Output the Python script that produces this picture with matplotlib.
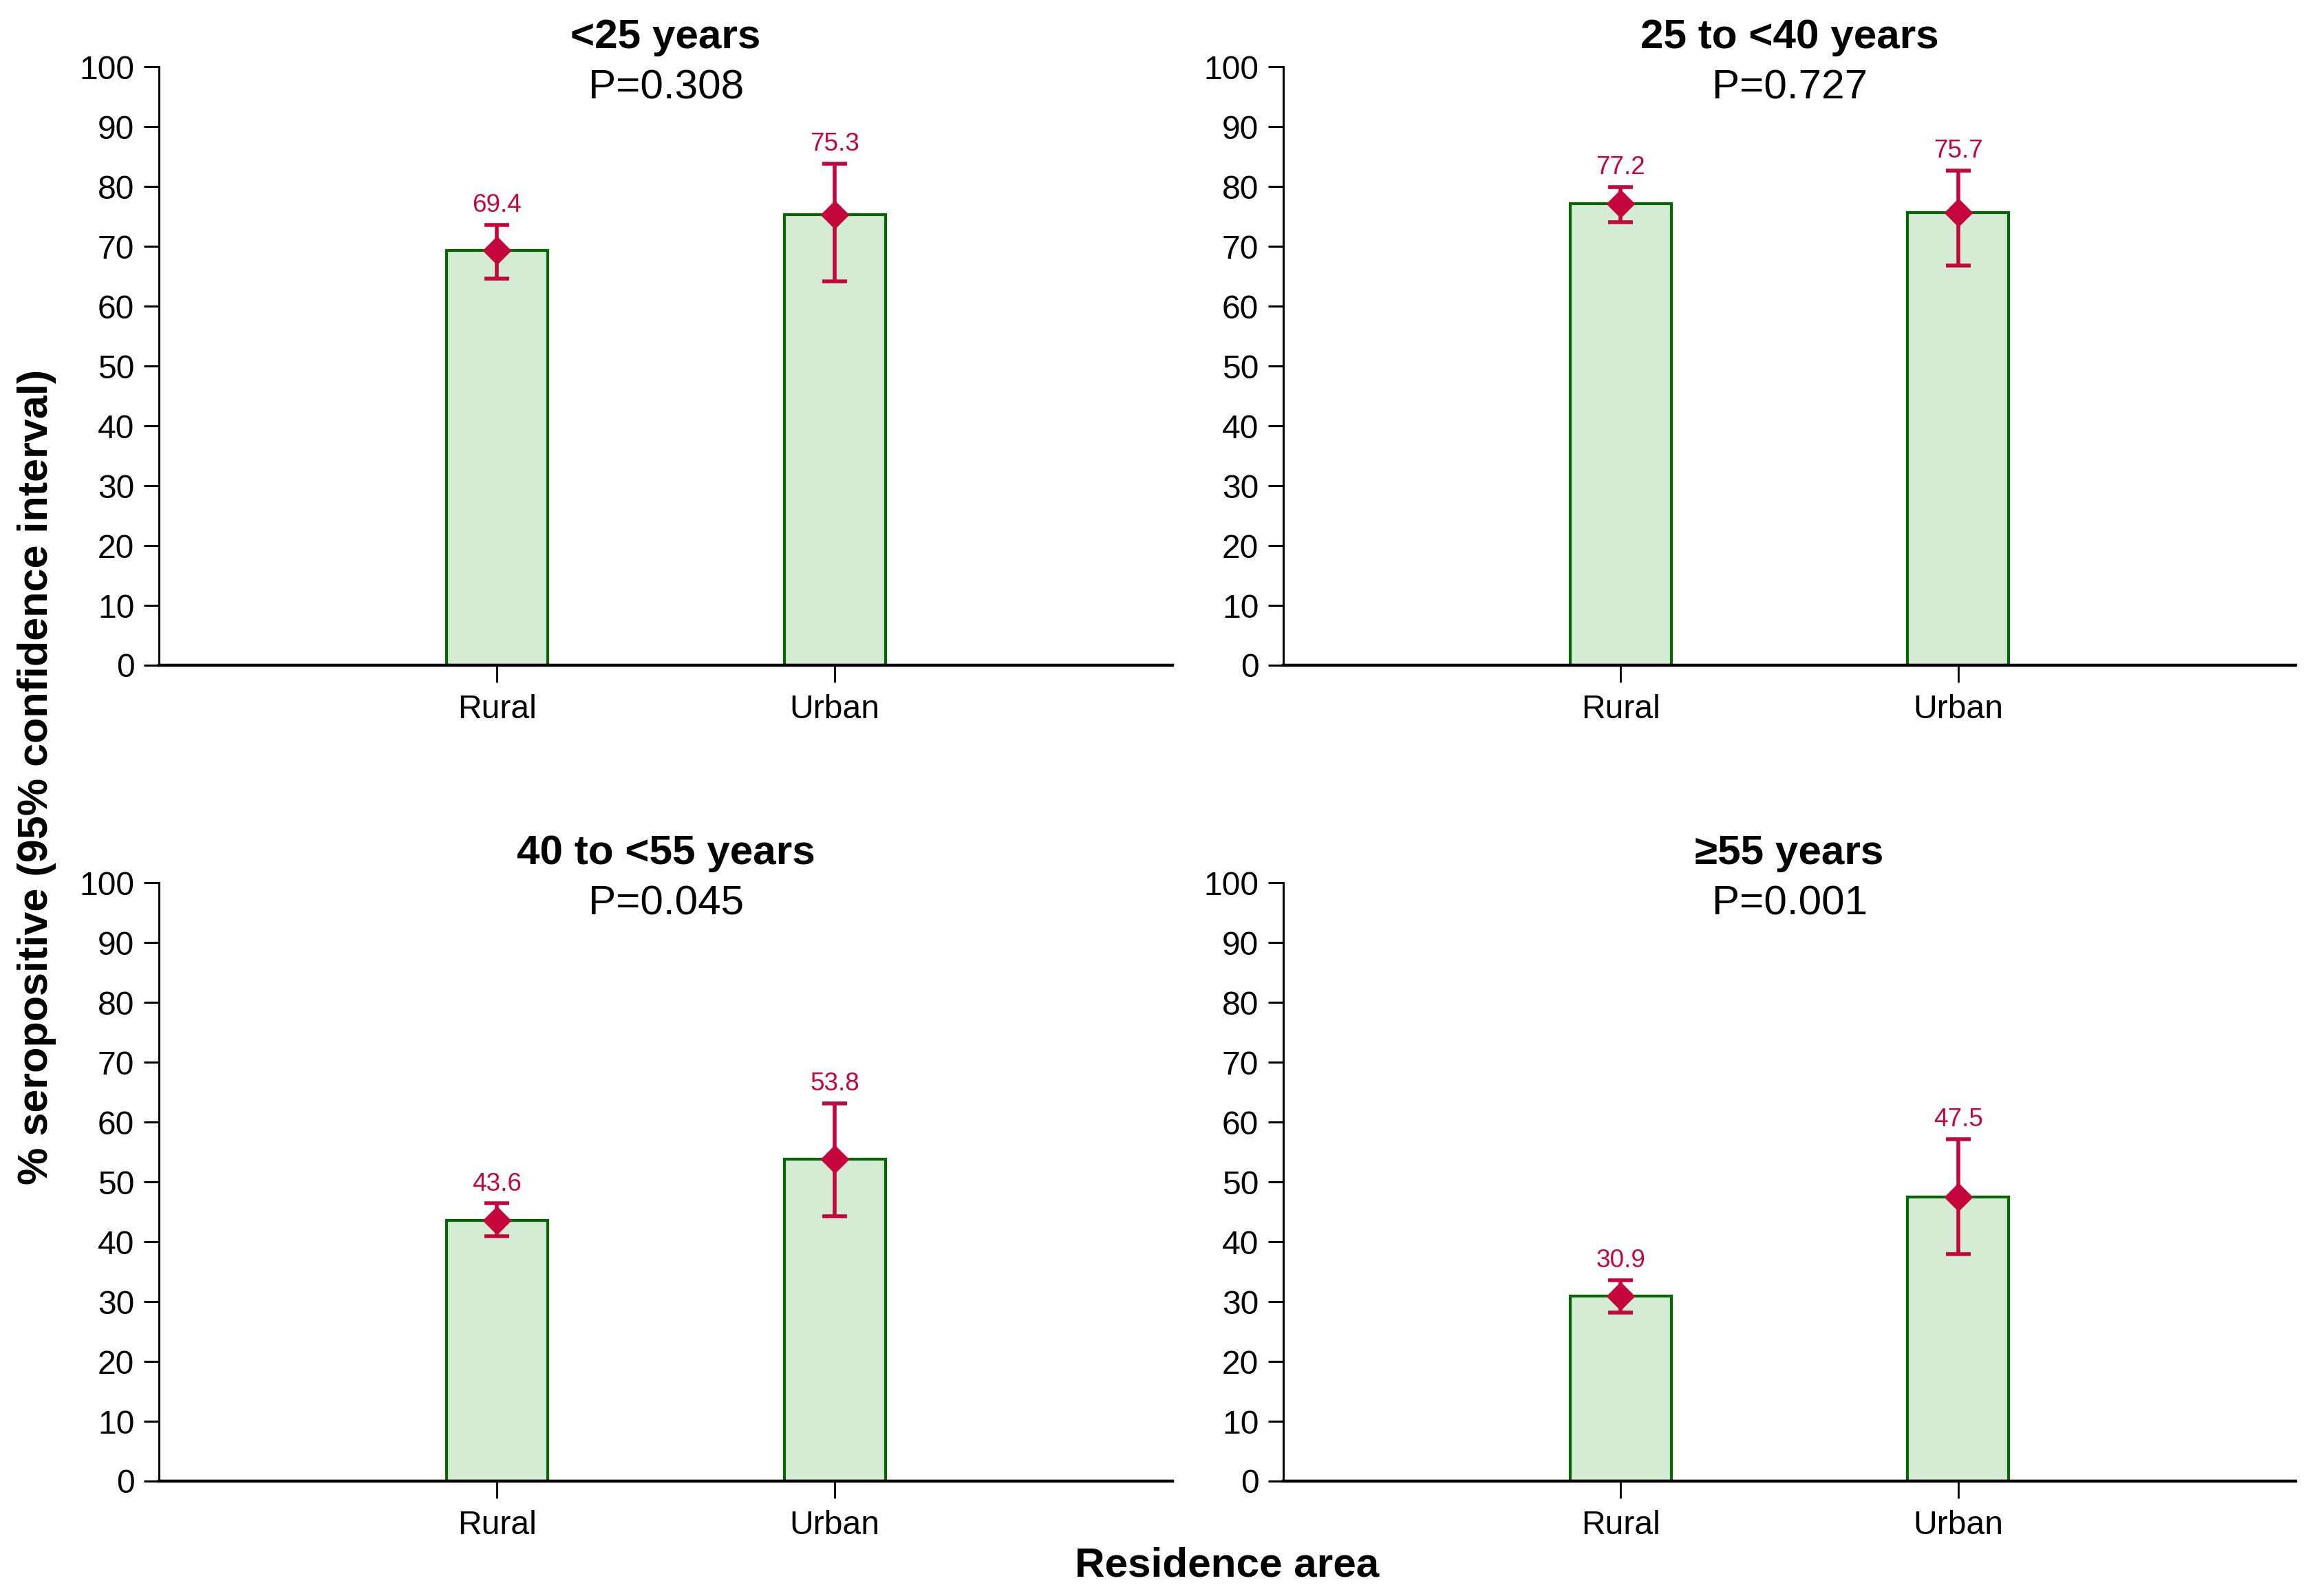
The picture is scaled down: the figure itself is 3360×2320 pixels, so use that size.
import matplotlib
matplotlib.use('Agg')
import matplotlib.pyplot as plt

plt.rcParams['font.family'] = ['Liberation Sans', 'DejaVu Sans']

# seroprevalence by age group and residence area
groups = ['<25 years', '25 to <40 years', '40 to <55 years', '\u226555 years']
p_values = ['0.308', '0.727', '0.045', '0.001']
areas = ['Rural', 'Urban']

rural_est = [69.4, 77.2, 43.6, 30.9]
rural_low = [64.6, 74.1, 40.9, 28.2]
rural_high = [73.6, 79.9, 46.4, 33.6]

urban_est = [75.3, 75.7, 53.8, 47.5]
urban_low = [64.2, 66.8, 44.3, 38.0]
urban_high = [83.8, 82.7, 63.1, 57.2]

yticks = list(range(0, 101, 10))

bar_fill = '#d4ebd4'
bar_edge = '#066606'
ci_color = '#c4063c'

fig = plt.figure(figsize=(16.8, 11.6), dpi=200)

# axes boxes: left, bottom, width, height (figure fraction)
boxes = [
    [0.0688, 0.5832, 0.4384, 0.3748],
    [0.5551, 0.5832, 0.4378, 0.3748],
    [0.0688, 0.0720, 0.4384, 0.3748],
    [0.5551, 0.0720, 0.4378, 0.3748],
]

for i, box in enumerate(boxes):
    ax = fig.add_axes(box)
    est = [rural_est[i], urban_est[i]]
    low = [rural_low[i], urban_low[i]]
    high = [rural_high[i], urban_high[i]]
    xs = list(range(len(areas)))

    ax.bar(xs, est, width=0.3, color=bar_fill, edgecolor=bar_edge,
           linewidth=1.5, zorder=2)

    err = [[e - l for e, l in zip(est, low)], [h - e for e, h in zip(est, high)]]
    ax.errorbar(xs, est, yerr=err, fmt='D', color=ci_color, ecolor=ci_color,
                markersize=9.5, elinewidth=2.0, capsize=6.5, capthick=2.0,
                zorder=3)

    for x, e, h in zip(xs, est, high):
        ax.annotate(f'{e:.1f}', xy=(x, h), xytext=(0, 6.8),
                    textcoords='offset points', ha='center', va='baseline',
                    color=ci_color, fontsize=13.3)

    ax.set_xlim(-1.0, 2.0)
    ax.set_ylim(0, 100)
    ax.set_xticks(xs)
    ax.set_xticklabels(areas)
    ax.set_yticks(yticks)

    ax.spines['top'].set_visible(False)
    ax.spines['right'].set_visible(False)
    ax.spines['left'].set_linewidth(1.1)
    ax.spines['bottom'].set_linewidth(1.6)
    ax.tick_params(axis='y', length=7.9, width=1.1, labelsize=17.3, pad=5)
    ax.tick_params(axis='x', length=9, width=1.0, labelsize=17.3, pad=6)

    ax.text(0.5, 1.031, groups[i], transform=ax.transAxes, ha='center',
            va='baseline', fontsize=21.7, fontweight='bold')
    ax.text(0.5, 0.947, f'P={p_values[i]}', transform=ax.transAxes,
            ha='center', va='baseline', fontsize=21.7)

fig.text(0.016, 0.513, '% seropositive (95% confidence interval)', rotation=90,
         ha='center', va='center', fontsize=22, fontweight='bold')
fig.text(0.5307, 0.019, 'Residence area', ha='center', va='center',
         fontsize=21.7, fontweight='bold')

fig.savefig('out.png', dpi=200)
